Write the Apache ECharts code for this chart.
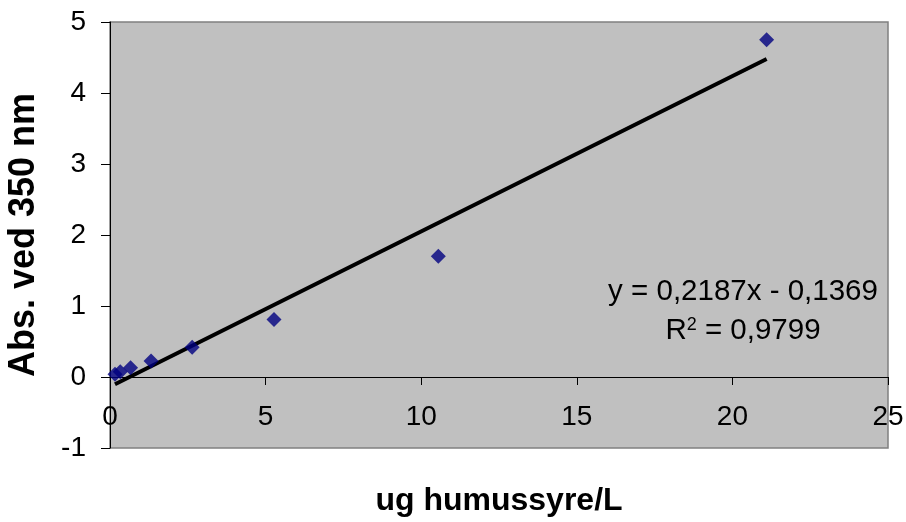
<!DOCTYPE html>
<html>
<head>
<meta charset="utf-8">
<script src="https://cdn.jsdelivr.net/npm/echarts@6/dist/echarts.min.js"></script>
<style>
html,body{margin:0;padding:0;background:#fff;}
#chart{width:906px;height:522px;}
</style>
</head>
<body>
<div id="chart"></div>
<script>
// Data
const concX = [0.16, 0.33, 0.66, 1.32, 2.64, 5.27, 10.55, 21.1];
const absY  = [0.04, 0.075, 0.13, 0.225, 0.42, 0.81, 1.70, 4.75];
// Linear trendline endpoints (y = 0,2187x - 0,1369), from first to last x
const trendX = [0.16, 21.1];
const trendY = [-0.102, 4.478];
const xTicks = [0, 5, 10, 15, 20, 25];
const yTicks = [-1, 0, 1, 2, 3, 4, 5];
const eqLine1 = 'y = 0,2187x - 0,1369';
const eqR2 = '0,9799';
const xTitle = 'ug humussyre/L';
const yTitle = 'Abs. ved 350 nm';

const FONT = "'Liberation Sans', Arial, sans-serif";
const chart = echarts.init(document.getElementById('chart'), null, {renderer: 'canvas'});

const option = {
  backgroundColor: '#ffffff',
  animation: false,
  grid: {
    left: 110, right: 18, top: 22, bottom: 74,
    containLabel: false,
    outerBoundsMode: 'none',
    show: true, backgroundColor: '#c0c0c0', borderColor: '#808080', borderWidth: 1.5
  },
  xAxis: {
    type: 'value',
    min: xTicks[0], max: xTicks[xTicks.length - 1], interval: 5,
    offset: -71,
    axisLine: { show: true, onZero: false, lineStyle: { color: '#000', width: 1 } },
    axisTick: { show: true, inside: false, length: 8, lineStyle: { color: '#000' } },
    splitLine: { show: false },
    axisLabel: { color: '#000', fontSize: 28, fontFamily: FONT, margin: 26 },
    name: xTitle,
    nameLocation: 'middle',
    nameGap: 108,
    nameMoveOverlap: false,
    nameTextStyle: { color: '#000', fontSize: 32, fontWeight: 'bold', fontFamily: FONT }
  },
  yAxis: {
    type: 'value',
    min: yTicks[0], max: yTicks[yTicks.length - 1], interval: 1,
    axisLine: { show: true, onZero: false, lineStyle: { color: '#000', width: 1 } },
    axisTick: { show: true, inside: false, length: 9, lineStyle: { color: '#000' } },
    splitLine: { show: false },
    axisLabel: { color: '#000', fontSize: 28, fontFamily: FONT, margin: 24 },
    name: yTitle,
    nameLocation: 'middle',
    nameRotate: 90,
    nameGap: 68,
    nameMoveOverlap: false,
    nameTextStyle: { color: '#000', fontSize: 36, fontWeight: 'bold', fontFamily: FONT }
  },
  series: [
    {
      type: 'line',
      data: trendX.map((x, i) => [x, trendY[i]]),
      symbol: 'none',
      lineStyle: { color: '#000', width: 4 },
      z: 2
    },
    {
      type: 'scatter',
      data: concX.map((x, i) => [x, absY[i]]),
      symbol: 'diamond',
      symbolSize: [15, 15],
      itemStyle: { color: '#000080' },
      z: 3
    }
  ],
  graphic: [
    {
      type: 'text', x: 743, y: 292, z: 10,
      style: {
        text: eqLine1, fill: '#000', font: '29.5px ' + FONT,
        textAlign: 'center', textVerticalAlign: 'middle'
      }
    },
    {
      type: 'text', x: 743, y: 331, z: 10,
      style: {
        text: 'R{sup|2} = ' + eqR2,
        fill: '#000', fontSize: 29.5, fontFamily: FONT,
        textAlign: 'center', textVerticalAlign: 'middle',
        rich: {
          sup: { fontSize: 18, fontFamily: FONT, verticalAlign: 'top', fill: '#000' }
        }
      }
    }
  ]
};
chart.setOption(option);
</script>
</body>
</html>
